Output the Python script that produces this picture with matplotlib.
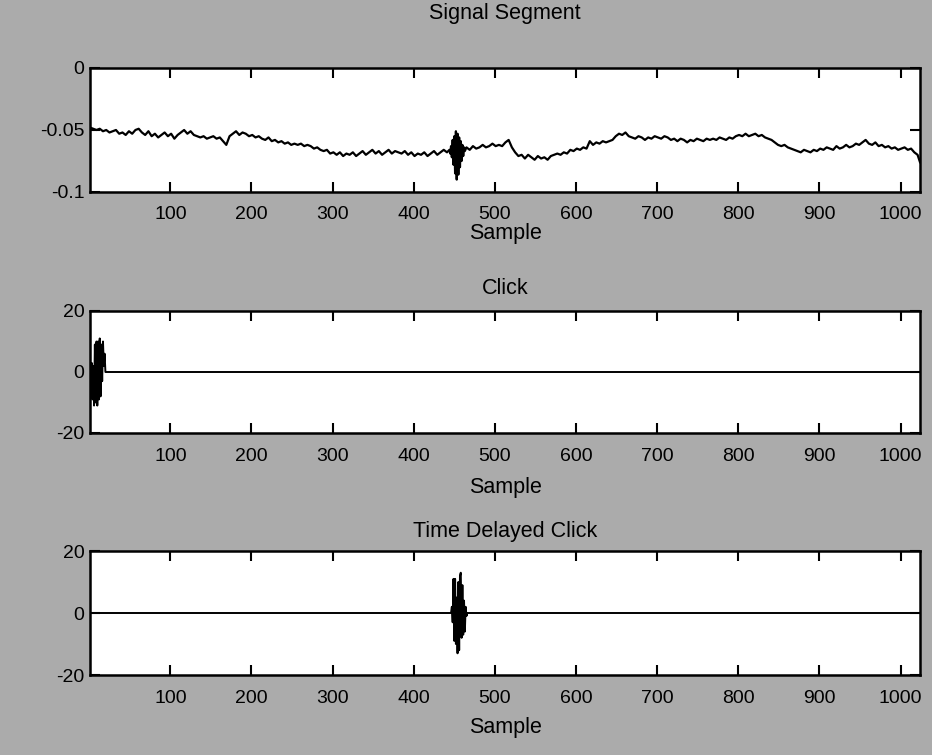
import numpy as np
import matplotlib
matplotlib.use("Agg")
import matplotlib.pyplot as plt

plt.rcParams['font.family'] = ['Liberation Sans', 'DejaVu Sans']

# ---------------- data ----------------
n_samples = 1024
coarse_step = 4
# Signal segment, read every 4 samples starting at sample 1 (values in units of 1e-3, negative)
signal_coarse_milli = [
    48, 49, 50, 49, 51, 50, 52, 51, 50, 53, 52, 54, 51, 53, 50, 49,
    52, 54, 51, 55, 53, 56, 54, 52, 55, 53, 57, 54, 52, 50, 53, 51,
    54, 55, 56, 55, 57, 56, 55, 57, 56, 59, 62, 55, 53, 51, 54, 52,
    53, 55, 54, 56, 55, 57, 58, 56, 59, 58, 60, 59, 61, 60, 62, 61,
    62, 61, 63, 62, 63, 65, 64, 66, 67, 66, 69, 68, 70, 68, 71, 69,
    70, 68, 71, 69, 67, 70, 68, 66, 69, 67, 70, 68, 66, 69, 67, 68,
    69, 67, 70, 68, 71, 69, 70, 68, 71, 69, 67, 70, 68, 66, 68, 67,
    66, 67, 66, 66, 64, 66, 63, 65, 64, 62, 64, 63, 61, 63, 62, 63,
    60, 58, 64, 68, 71, 70, 73, 70, 72, 74, 71, 73, 72, 74, 71, 70,
    69, 70, 68, 69, 66, 67, 65, 66, 64, 65, 59, 62, 60, 61, 59, 60,
    59, 58, 55, 53, 54, 52, 55, 56, 57, 55, 56, 58, 56, 57, 55, 56,
    57, 55, 56, 58, 57, 59, 57, 58, 60, 58, 59, 57, 58, 59, 57, 58,
    57, 58, 56, 57, 58, 56, 57, 55, 54, 55, 53, 55, 54, 53, 55, 54,
    56, 57, 58, 60, 62, 63, 62, 64, 65, 66, 67, 68, 66, 67, 68, 66,
    67, 65, 66, 64, 65, 66, 63, 65, 64, 62, 64, 63, 61, 62, 60, 58,
    61, 62, 60, 63, 62, 64, 63, 65, 64, 66, 65, 64, 66, 65, 68, 70,
]
signal_last_milli = 76          # sample 1024
# Click as it appears inside the signal segment (samples 444..463)
signal_click_start = 444
signal_click_milli = [66, 69, 63, 72, 58, 78, 55, 85, 51, 90,
                      53, 86, 56, 80, 59, 75, 62, 71, 64, 67]

# Click template (samples 1..21), rest are zeros
click_values = [0, -4, 3, -9, 2, -11, 9, -10, 10, -11, 10, -9, 11, -8, 9, -3, 10, 2, 6, 0, 0]

# Time delayed click (samples 446..466), rest are zeros
delayed_start = 446
delayed_values = [0, 2, -3, 11, -9, 11, -10, 5, -13, 10, -12, 12, 13, -8, 9, -7, 4, -6, 2, -1, 0]

x_ticks = [100, 200, 300, 400, 500, 600, 700, 800, 900, 1000]
y1_ticks = [-0.1, -0.05, 0]
y1_labels = ['-0.1', '-0.05', '0']
y23_ticks = [-20, 0, 20]
y23_labels = ['-20', '0', '20']
titles = ['Signal Segment', 'Click', 'Time Delayed Click']
xlabel = 'Sample'

# ---------------- build series ----------------
xc = np.arange(1, n_samples + 1, coarse_step)
yc = -np.array(signal_coarse_milli) / 1000.0
xk = np.arange(signal_click_start, signal_click_start + len(signal_click_milli))
yk = -np.array(signal_click_milli) / 1000.0
keep = (xc < xk[0]) | (xc > xk[-1])
sx = np.concatenate([xc[keep], xk, [n_samples]])
sy = np.concatenate([yc[keep], yk, [-signal_last_milli / 1000.0]])
order = np.argsort(sx)
sx, sy = sx[order], sy[order]

samples = np.arange(1, n_samples + 1)
click = np.zeros(n_samples)
click[:len(click_values)] = click_values
delayed = np.zeros(n_samples)
delayed[delayed_start - 1:delayed_start - 1 + len(delayed_values)] = delayed_values

# ---------------- figure ----------------
bg = '#ababab'
fig = plt.figure(figsize=(9.32, 7.55), dpi=100, facecolor=bg)
W, H = 932.0, 755.0
left, right = 90 / W, 920 / W
boxes = [(68, 192), (311, 433), (551, 675)]
axes = []
for (t, b) in boxes:
    ax = fig.add_axes([left, 1 - b / H, right - left, (b - t) / H])
    axes.append(ax)

fs_tick = 14
fs_text = 15.5
def style(ax, yt, yl, pad):
    ax.set_facecolor('white')
    ax.set_xlim(1, n_samples)
    ax.set_xticks(x_ticks)
    ax.set_xticklabels([str(v) for v in x_ticks])
    ax.set_yticks(yt)
    ax.set_yticklabels(yl)
    ax.tick_params(direction='in', length=7, width=1.5, top=True, right=True,
                   labelsize=fs_tick, colors='black')
    ax.tick_params(axis='x', pad=pad)
    ax.tick_params(axis='y', pad=4)
    for s in ax.spines.values():
        s.set_linewidth(1.8)

axes[0].plot(sx, sy, color='black', lw=1.6)
axes[0].set_ylim(-0.1, 0)
style(axes[0], y1_ticks, y1_labels, 10)

axes[1].plot(samples, click, color='black', lw=1.4)
axes[1].set_ylim(-20, 20)
style(axes[1], y23_ticks, y23_labels, 11)

axes[2].plot(samples, delayed, color='black', lw=1.4)
axes[2].set_ylim(-20, 20)
style(axes[2], y23_ticks, y23_labels, 11)

# titles and x labels at their positions
title_y = [14, 289, 531]
xlabel_y = [234, 487, 727]
cx = (90 + 920) / 2 / W
for ty, t in zip(title_y, titles):
    fig.text(cx, 1 - ty / H, t, ha='center', va='center', fontsize=fs_text)
for ly in xlabel_y:
    fig.text(cx, 1 - ly / H, xlabel, ha='center', va='center', fontsize=fs_text)

fig.savefig('out.png', dpi=100, facecolor=bg)
